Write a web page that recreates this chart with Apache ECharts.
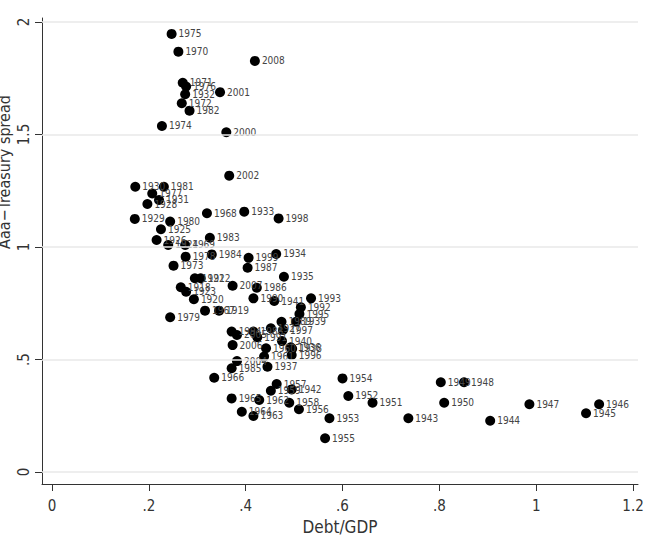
<!DOCTYPE html>
<html>
<head>
<meta charset="utf-8">
<script src="https://cdn.jsdelivr.net/npm/echarts@6/dist/echarts.min.js"></script>
<style>
  html, body { margin: 0; padding: 0; background: #fff; }
  #chart { width: 649px; height: 543px; }
</style>
</head>
<body>
<div id="chart"></div>
<script>
// annual observations: debt/GDP vs Aaa-Treasury spread, labelled by year
var years = [
  1975, 1970, 2008, 1971, 1976, 1932, 2001, 1972, 1982, 1974, 2000,
  2002, 1930, 1981, 1977, 1931, 1928, 1968, 1933, 1998, 1929, 1980,
  1925, 1983, 1926, 1924, 1969, 1984, 1978, 1999, 1934, 1973, 1987,
  1935, 1921, 1922, 2007, 1986, 1918, 1923, 1993, 1920, 1990, 1941,
  1992, 1995, 1939, 1967, 1919, 1979, 1997, 1989, 1994, 2005, 1988,
  1991, 1927, 2006, 1940, 1936, 1938, 1996, 1960, 1961, 2004, 1985,
  1937, 1966, 1954, 1957, 1959, 1942, 1952, 1951, 1965, 1962, 1958,
  1956, 1964, 1963, 1953, 1949, 1948, 1950, 1943, 1944, 1955, 1947,
  1946, 1945
];
var debtGdp = [
  0.247, 0.261, 0.419, 0.270, 0.277, 0.275, 0.347, 0.268, 0.284, 0.227, 0.360,
  0.366, 0.172, 0.231, 0.207, 0.221, 0.197, 0.320, 0.397, 0.468, 0.171, 0.244,
  0.225, 0.326, 0.216, 0.240, 0.275, 0.330, 0.276, 0.406, 0.463, 0.251, 0.404,
  0.479, 0.295, 0.307, 0.373, 0.423, 0.266, 0.277, 0.535, 0.293, 0.416, 0.459,
  0.514, 0.511, 0.504, 0.316, 0.345, 0.244, 0.477, 0.474, 0.371, 0.382, 0.416,
  0.424, 0.452, 0.373, 0.475, 0.493, 0.496, 0.495, 0.442, 0.438, 0.382, 0.371,
  0.445, 0.335, 0.600, 0.464, 0.452, 0.495, 0.612, 0.662, 0.371, 0.428, 0.490,
  0.510, 0.392, 0.416, 0.573, 0.803, 0.851, 0.810, 0.736, 0.905, 0.564, 0.986,
  1.130, 1.103
];
var spread = [
  1.947, 1.868, 1.827, 1.730, 1.713, 1.679, 1.688, 1.639, 1.606, 1.538, 1.510,
  1.317, 1.268, 1.268, 1.238, 1.209, 1.191, 1.150, 1.157, 1.127, 1.125, 1.113,
  1.079, 1.041, 1.031, 1.009, 1.009, 0.967, 0.957, 0.952, 0.969, 0.917, 0.908,
  0.868, 0.861, 0.861, 0.828, 0.819, 0.821, 0.801, 0.772, 0.768, 0.772, 0.760,
  0.732, 0.702, 0.668, 0.717, 0.717, 0.688, 0.631, 0.668, 0.624, 0.609, 0.624,
  0.599, 0.639, 0.564, 0.582, 0.554, 0.548, 0.520, 0.550, 0.513, 0.493, 0.461,
  0.468, 0.419, 0.416, 0.391, 0.361, 0.367, 0.338, 0.308, 0.327, 0.320, 0.308,
  0.279, 0.268, 0.249, 0.239, 0.399, 0.399, 0.308, 0.239, 0.228, 0.150, 0.301,
  0.301, 0.261
];
var xTicks = [0, 0.2, 0.4, 0.6, 0.8, 1, 1.2];
var yTicks = [0, 0.5, 1, 1.5, 2];

var FONT = "'Liberation Sans Narrow', 'DejaVu Sans Condensed', sans-serif";

// stata style: ".2" rather than "0.2"
function tickText(v) {
  var s = String(Math.round(v * 10) / 10);
  return s.replace(/^0\./, '.');
}

var points = years.map(function (yr, i) { return [debtGdp[i], spread[i], yr]; });

var chart = echarts.init(document.getElementById('chart'), null, { renderer: 'svg' });

chart.setOption({
  animation: false,
  backgroundColor: '#fff',
  grid: { left: 42, right: 11, top: 18, bottom: 59 },
  xAxis: {
    type: 'value',
    min: -0.0207,
    max: 1.2103,
    axisLine: { show: true, onZero: false, lineStyle: { color: '#333', width: 1 } },
    axisTick: { show: true, length: 7, customValues: xTicks, lineStyle: { color: '#333' } },
    axisLabel: { customValues: xTicks, formatter: tickText, margin: 14, fontSize: 15, color: '#333', fontFamily: FONT },
    splitLine: { show: false },
    name: 'Debt/GDP',
    nameLocation: 'middle',
    nameGap: 34,
    nameTextStyle: { fontSize: 17, color: '#333', fontFamily: FONT }
  },
  yAxis: {
    type: 'value',
    min: -0.0533,
    max: 2.0178,
    axisLine: { show: true, onZero: false, lineStyle: { color: '#333', width: 1 } },
    axisTick: { show: true, length: 7, customValues: yTicks, lineStyle: { color: '#333' } },
    axisLabel: { customValues: yTicks, formatter: tickText, rotate: 90, margin: 11, fontSize: 15, color: '#333', fontFamily: FONT },
    splitLine: { show: false }
  },
  graphic: [{
    type: 'text',
    x: 4,
    y: 172,
    rotation: Math.PI / 2,
    style: { text: 'Aaa\u2212Treasury spread', fontSize: 16, fontFamily: FONT, fill: '#333', align: 'center', verticalAlign: 'middle' }
  }],
  series: [
    {
      // horizontal grid lines only
      type: 'scatter',
      data: [],
      z: 1,
      silent: true,
      markLine: {
        silent: true,
        symbol: 'none',
        label: { show: false },
        lineStyle: { color: '#e8e8e8', width: 1.5, type: 'solid' },
        data: yTicks.map(function (v) { return { yAxis: v }; })
      }
    },
    {
      type: 'scatter',
      z: 3,
      symbolSize: 10,
      itemStyle: { color: '#000', opacity: 1 },
      label: {
        show: true,
        position: 'right',
        distance: 2,
        formatter: function (p) { return p.value[2]; },
        fontSize: 10,
        color: '#444',
        fontFamily: FONT
      },
      emphasis: { disabled: true },
      data: points
    }
  ]
});
</script>
</body>
</html>
